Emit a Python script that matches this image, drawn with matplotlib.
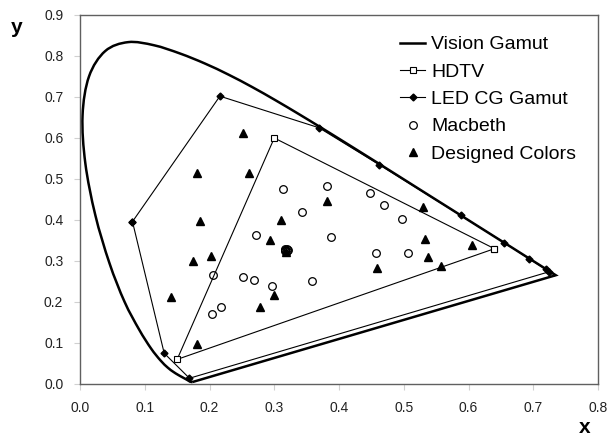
import matplotlib.pyplot as plt
from matplotlib.path import Path
from matplotlib.patches import PathPatch
from matplotlib.lines import Line2D

plt.rcParams['font.family'] = ['Liberation Sans', 'DejaVu Sans']

# CIE 1931 spectral locus, 380-700 nm in 5 nm steps
locus_x = [0.1741, 0.1740, 0.1738, 0.1736, 0.1733, 0.1730, 0.1726, 0.1721, 0.1714, 0.1703,
           0.1689, 0.1669, 0.1644, 0.1611, 0.1566, 0.1510, 0.1440, 0.1355, 0.1241, 0.1096,
           0.0913, 0.0687, 0.0454, 0.0235, 0.0082, 0.0039, 0.0139, 0.0389, 0.0743, 0.1142,
           0.1547, 0.1929, 0.2296, 0.2658, 0.3016, 0.3373, 0.3731, 0.4087, 0.4441, 0.4788,
           0.5125, 0.5448, 0.5752, 0.6029, 0.6270, 0.6482, 0.6658, 0.6801, 0.6915, 0.7006,
           0.7079, 0.7140, 0.7190, 0.7230, 0.7260, 0.7283, 0.7300, 0.7311, 0.7320, 0.7327,
           0.7334, 0.7340, 0.7344, 0.7346, 0.7347]
locus_y = [0.0050, 0.0050, 0.0049, 0.0049, 0.0048, 0.0048, 0.0048, 0.0048, 0.0051, 0.0058,
           0.0069, 0.0086, 0.0109, 0.0138, 0.0177, 0.0227, 0.0297, 0.0399, 0.0578, 0.0868,
           0.1327, 0.2007, 0.2950, 0.4127, 0.5384, 0.6548, 0.7502, 0.8120, 0.8338, 0.8262,
           0.8059, 0.7816, 0.7543, 0.7243, 0.6923, 0.6589, 0.6245, 0.5896, 0.5547, 0.5202,
           0.4866, 0.4544, 0.4242, 0.3965, 0.3725, 0.3514, 0.3340, 0.3197, 0.3083, 0.2993,
           0.2920, 0.2859, 0.2809, 0.2770, 0.2740, 0.2717, 0.2700, 0.2689, 0.2680, 0.2673,
           0.2666, 0.2660, 0.2656, 0.2654, 0.2653]

# Rec. 709 primaries
hdtv_x = [0.64, 0.30, 0.15, 0.64]
hdtv_y = [0.33, 0.60, 0.06, 0.33]

led_x = [0.081, 0.216, 0.369, 0.462, 0.588, 0.655, 0.693, 0.719, 0.725, 0.169, 0.130, 0.081]
led_y = [0.396, 0.702, 0.625, 0.535, 0.411, 0.345, 0.306, 0.280, 0.274, 0.014, 0.075, 0.396]

# chromatic patches, then the grey patches bunched near the white point
macbeth_x = [0.314, 0.382, 0.343, 0.448, 0.470, 0.497, 0.387, 0.271, 0.206, 0.252,
             0.269, 0.297, 0.359, 0.218, 0.204, 0.457, 0.506,
             0.3170, 0.3200, 0.3165, 0.3205, 0.3170, 0.3200]
macbeth_y = [0.475, 0.484, 0.419, 0.466, 0.436, 0.402, 0.358, 0.363, 0.266, 0.261,
             0.254, 0.238, 0.252, 0.188, 0.170, 0.320, 0.320,
             0.3285, 0.3285, 0.3260, 0.3260, 0.3235, 0.3235]

designed_x = [0.251, 0.180, 0.261, 0.185, 0.310, 0.382, 0.293, 0.175, 0.202, 0.141,
              0.180, 0.278, 0.299, 0.530, 0.532, 0.606, 0.537, 0.458, 0.558, 0.3185]
designed_y = [0.611, 0.515, 0.515, 0.397, 0.401, 0.446, 0.351, 0.300, 0.311, 0.211,
              0.098, 0.189, 0.217, 0.432, 0.353, 0.339, 0.310, 0.282, 0.288, 0.323]


def smooth_path(xs, ys):
    # Catmull-Rom through the points, as cubic Bezier segments
    pts = list(zip(xs, ys))
    verts = [pts[0]]
    codes = [Path.MOVETO]
    n = len(pts)
    for i in range(n - 1):
        p0 = pts[max(i - 1, 0)]
        p1 = pts[i]
        p2 = pts[i + 1]
        p3 = pts[min(i + 2, n - 1)]
        c1 = (p1[0] + (p2[0] - p0[0]) / 6, p1[1] + (p2[1] - p0[1]) / 6)
        c2 = (p2[0] - (p3[0] - p1[0]) / 6, p2[1] - (p3[1] - p1[1]) / 6)
        verts += [c1, c2, p2]
        codes += [Path.CURVE4] * 3
    # purple line back to the start
    verts.append(pts[0])
    codes.append(Path.LINETO)
    return Path(verts, codes)


fig = plt.figure(figsize=(6.09, 4.37), dpi=100)
ax = fig.add_axes([0.1314, 0.1213, 0.8506, 0.8444])

ax.add_patch(PathPatch(smooth_path(locus_x, locus_y), facecolor='none',
                       edgecolor='black', lw=1.8, joinstyle='miter'))
ax.plot(hdtv_x, hdtv_y, color='black', lw=0.8, marker='s', ms=5,
        mfc='white', mec='black', mew=0.8)
ax.plot(led_x, led_y, color='black', lw=0.8, marker='D', ms=3.5,
        mfc='black', mec='black')
ax.plot(macbeth_x, macbeth_y, ls='none', marker='o', ms=5.5,
        mfc='none', mec='black', mew=0.9)
ax.plot(designed_x, designed_y, ls='none', marker='^', ms=6,
        mfc='black', mec='black')

ax.set_xlim(0, 0.8)
ax.set_ylim(0, 0.9)
ax.set_xticks([i / 10 for i in range(9)])
ax.set_yticks([i / 10 for i in range(10)])
ax.xaxis.set_major_formatter(plt.FormatStrFormatter('%.1f'))
ax.yaxis.set_major_formatter(plt.FormatStrFormatter('%.1f'))
ax.tick_params(direction='out', length=4, color='#d0d0d0', labelsize=10,
               labelcolor='#222222', pad=8)
for s in ax.spines.values():
    s.set_color('#606060')
    s.set_linewidth(1.0)

fig.text(0.018, 0.925, 'y', fontsize=15, fontweight='bold')
fig.text(0.96, 0.0, 'x', fontsize=15, fontweight='bold', ha='center', va='bottom')

handles = [
    Line2D([], [], color='black', lw=1.8),
    Line2D([], [], color='black', lw=0.8, marker='s', ms=5, mfc='white', mec='black', mew=0.8),
    Line2D([], [], color='black', lw=0.8, marker='D', ms=3.5, mfc='black'),
    Line2D([], [], ls='none', marker='o', ms=5.5, mfc='none', mec='black', mew=0.9),
    Line2D([], [], ls='none', marker='^', ms=6, mfc='black', mec='black'),
]
labels = ['Vision Gamut', 'HDTV', 'LED CG Gamut', 'Macbeth', 'Designed Colors']
ax.legend(handles, labels, loc='upper right', bbox_to_anchor=(0.98, 0.975),
          frameon=False, fontsize=14, handlelength=1.3, handletextpad=0.3,
          labelspacing=0.5, borderaxespad=0.2)

fig.savefig('out.png', dpi=100)
